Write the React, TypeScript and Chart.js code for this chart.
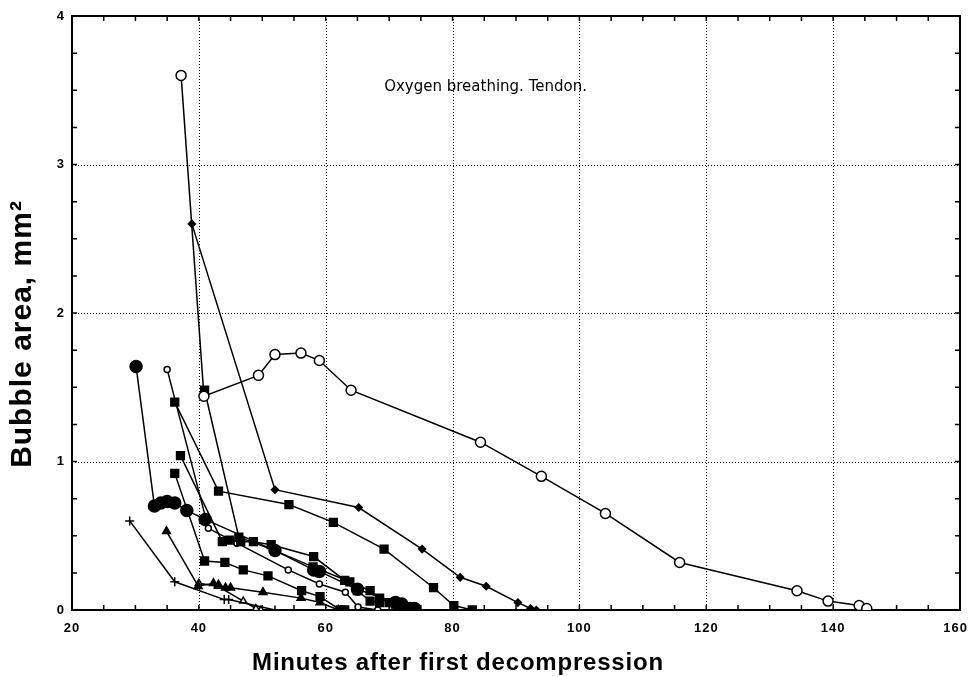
import { useEffect, useRef } from "react";
import { Chart, registerables } from "chart.js";

Chart.register(...registerables);

// ---- tick values ----
const xMajorTicks = [20, 40, 60, 80, 100, 120, 140, 160];
const yMajorTicks = [0, 1, 2, 3, 4];

// ---- text ----
const annotationText = "Oxygen breathing. Tendon.";
const xTitle = "Minutes after first decompression";
const yTitle = "Bubble area, mm²";

// ---- series ----
const openCircleX = [37.2, 40.8, 49.4, 52, 56.1, 59, 64, 84.4, 94, 104.1, 115.8, 134.3, 139.2, 144.1, 145.3];
const openCircleY = [3.6, 1.44, 1.58, 1.72, 1.73, 1.68, 1.48, 1.13, 0.9, 0.65, 0.32, 0.13, 0.06, 0.03, 0.01];

const diamondX = [38.9, 52, 65.2, 75.2, 81.2, 85.3, 90.3, 92.3, 93.2];
const diamondY = [2.6, 0.81, 0.69, 0.41, 0.22, 0.16, 0.05, 0.01, 0.0];

const squareAX = [36.2, 43.1, 54.2, 61.2, 69.2, 77, 80.2, 83.1];
const squareAY = [1.4, 0.8, 0.71, 0.59, 0.41, 0.15, 0.03, 0.0];

const squareBX = [40.9, 46.3, 52, 58, 63.8, 67, 68.5, 70, 71];
const squareBY = [1.48, 0.49, 0.4, 0.29, 0.19, 0.13, 0.08, 0.05, 0.04];

const squareCX = [37.1, 43.7, 44.8, 46.6, 48.6, 51.4, 58.1, 63, 65, 67, 68.5];
const squareCY = [1.04, 0.46, 0.47, 0.46, 0.46, 0.44, 0.36, 0.2, 0.13, 0.06, 0.05];

const squareDX = [36.2, 40.9, 44.1, 47, 50.9, 56.2, 59.1, 62.3, 63];
const squareDY = [0.92, 0.33, 0.32, 0.27, 0.23, 0.13, 0.09, 0.0, 0.0];

const dotX = [30.1, 33, 34, 35, 36.2, 38.1, 41, 52, 58.1, 59, 65, 71, 72, 73.3, 74];
const dotY = [1.64, 0.7, 0.72, 0.73, 0.72, 0.67, 0.61, 0.4, 0.27, 0.26, 0.14, 0.05, 0.04, 0.01, 0.01];

const smallOpenX = [35, 41.5, 46, 54.1, 59, 63.1, 65.1, 68.2];
const smallOpenY = [1.62, 0.55, 0.45, 0.27, 0.175, 0.12, 0.02, 0.0];

const plusX = [29.1, 36.2, 44, 44.7, 52];
const plusY = [0.6, 0.19, 0.07, 0.07, 0.0];

const triangleX = [34.9, 39.9, 42.3, 43.1, 44.2, 45, 50.1, 56.1, 59.1, 62];
const triangleY = [0.53, 0.16, 0.18, 0.17, 0.15, 0.15, 0.12, 0.08, 0.05, 0.0];

const openTriangleX = [40, 43, 47, 49, 49.8];
const openTriangleY = [0.18, 0.16, 0.06, 0.01, 0.0];

function pts(xs: number[], ys: number[]) {
  return xs.map((x, i) => ({ x, y: ys[i] }));
}

function ds(xs: number[], ys: number[], pointStyle: string, radius: number, filled: boolean) {
  return {
    data: pts(xs, ys),
    showLine: true,
    borderColor: "#000",
    borderWidth: 1.5,
    pointStyle,
    pointRadius: radius,
    pointHoverRadius: radius,
    pointBackgroundColor: filled ? "#000" : "#fff",
    pointBorderColor: "#000",
    pointBorderWidth: 1.5,
    fill: false,
    tension: 0,
  };
}

const framePlugin = {
  id: "frame",
  beforeDatasetsDraw(chart: any) {
    const { ctx, chartArea, scales } = chart;
    const { left, right, top, bottom } = chartArea;
    const xs = scales.x;
    const ys = scales.y;
    ctx.save();
    ctx.strokeStyle = "#000";
    ctx.lineWidth = 1;
    ctx.setLineDash([1, 2]);
    xMajorTicks.slice(1, -1).forEach((v) => {
      const p = Math.round(xs.getPixelForValue(v)) + 0.5;
      ctx.beginPath();
      ctx.moveTo(p, top);
      ctx.lineTo(p, bottom);
      ctx.stroke();
    });
    yMajorTicks.slice(1, -1).forEach((v) => {
      const p = Math.round(ys.getPixelForValue(v)) + 0.5;
      ctx.beginPath();
      ctx.moveTo(left, p);
      ctx.lineTo(right, p);
      ctx.stroke();
    });
    ctx.setLineDash([]);
    ctx.lineWidth = 1.5;
    for (let v = 20; v <= 160; v += 5) {
      const p = xs.getPixelForValue(v);
      ctx.beginPath();
      ctx.moveTo(p, top);
      ctx.lineTo(p, top + 5);
      ctx.moveTo(p, bottom);
      ctx.lineTo(p, bottom - 5);
      ctx.stroke();
    }
    for (let v = 0; v <= 4; v += 0.25) {
      const p = ys.getPixelForValue(v);
      ctx.beginPath();
      ctx.moveTo(left, p);
      ctx.lineTo(left + 5, p);
      ctx.moveTo(right, p);
      ctx.lineTo(right - 5, p);
      ctx.stroke();
    }
    ctx.lineWidth = 2;
    ctx.strokeRect(left, top, right - left, bottom - top);
    ctx.restore();
  },
  afterDraw(chart: any) {
    const { ctx, scales, width } = chart;
    ctx.save();
    ctx.fillStyle = "#000";
    ctx.textBaseline = "middle";
    // x tick labels (kept inside the canvas)
    ctx.font = "bold 13px 'Liberation Sans', Arial, sans-serif";
    (ctx as any).letterSpacing = "1px";
    ctx.textAlign = "center";
    xMajorTicks.forEach((v) => {
      const label = String(v);
      const w = ctx.measureText(label).width;
      let cx = scales.x.getPixelForValue(v);
      cx = Math.min(cx, width - 1 - w / 2);
      ctx.fillText(label, cx, 628);
    });
    (ctx as any).letterSpacing = "0px";
    ctx.font = "15px 'DejaVu Sans', sans-serif";
    ctx.fillText(annotationText, scales.x.getPixelForValue(85.2), scales.y.getPixelForValue(3.52));
    ctx.font = "bold 24px 'Liberation Sans', Arial, sans-serif";
    (ctx as any).letterSpacing = "0.8px";
    ctx.fillText(xTitle, 458, 663);
    ctx.translate(23, 334);
    ctx.rotate(-Math.PI / 2);
    ctx.font = "bold 30px 'Liberation Sans', Arial, sans-serif";
    (ctx as any).letterSpacing = "1px";
    ctx.fillText(yTitle, 0, 0);
    ctx.restore();
  },
};

export default function App() {
  const ref = useRef<HTMLCanvasElement>(null);
  useEffect(() => {
    if (!ref.current) return;
    const chart = new Chart(ref.current, {
      type: "scatter",
      data: {
        datasets: [
          ds(openCircleX, openCircleY, "circle", 5, false),
          ds(diamondX, diamondY, "rectRot", 3.5, true),
          ds(squareAX, squareAY, "rect", 5.5, true),
          ds(squareBX, squareBY, "rect", 5.5, true),
          ds(squareCX, squareCY, "rect", 5.5, true),
          ds(squareDX, squareDY, "rect", 5.5, true),
          ds(dotX, dotY, "circle", 6, true),
          ds(smallOpenX, smallOpenY, "circle", 3, false),
          ds(plusX, plusY, "cross", 4.5, false),
          ds(triangleX, triangleY, "triangle", 4.5, true),
          ds(openTriangleX, openTriangleY, "triangle", 4, false),
        ] as any,
      },
      options: {
        animation: false,
        responsive: true,
        maintainAspectRatio: false,
        layout: { padding: { left: 0, top: 16, right: 9, bottom: 0 } },
        plugins: { legend: { display: false }, tooltip: { enabled: false } },
        scales: {
          x: {
            type: "linear",
            min: 20,
            max: 160,
            afterBuildTicks: (s: any) => {
              s.ticks = xMajorTicks.map((v) => ({ value: v }));
            },
            afterFit: (s: any) => {
              s.height = 67;
              s.paddingLeft = 0;
              s.paddingRight = 0;
            },
            grid: { display: false, drawTicks: false },
            border: { display: false },
            ticks: { display: false },
          },
          y: {
            type: "linear",
            min: 0,
            max: 4,
            afterBuildTicks: (s: any) => {
              s.ticks = yMajorTicks.map((v) => ({ value: v }));
            },
            afterFit: (s: any) => {
              s.width = 72;
              s.paddingTop = 0;
              s.paddingBottom = 0;
            },
            grid: { display: false, drawTicks: false },
            border: { display: false },
            ticks: {
              padding: 8,
              color: "#000",
              font: { family: "'Liberation Sans', Arial, sans-serif", size: 13, weight: "bold" },
            },
          },
        },
      },
      plugins: [framePlugin],
    } as any);
    return () => chart.destroy();
  }, []);
  return (
    <div style={{ position: "absolute", left: 0, top: 0, width: 969, height: 677, background: "#fff" }}>
      <canvas ref={ref} />
    </div>
  );
}
